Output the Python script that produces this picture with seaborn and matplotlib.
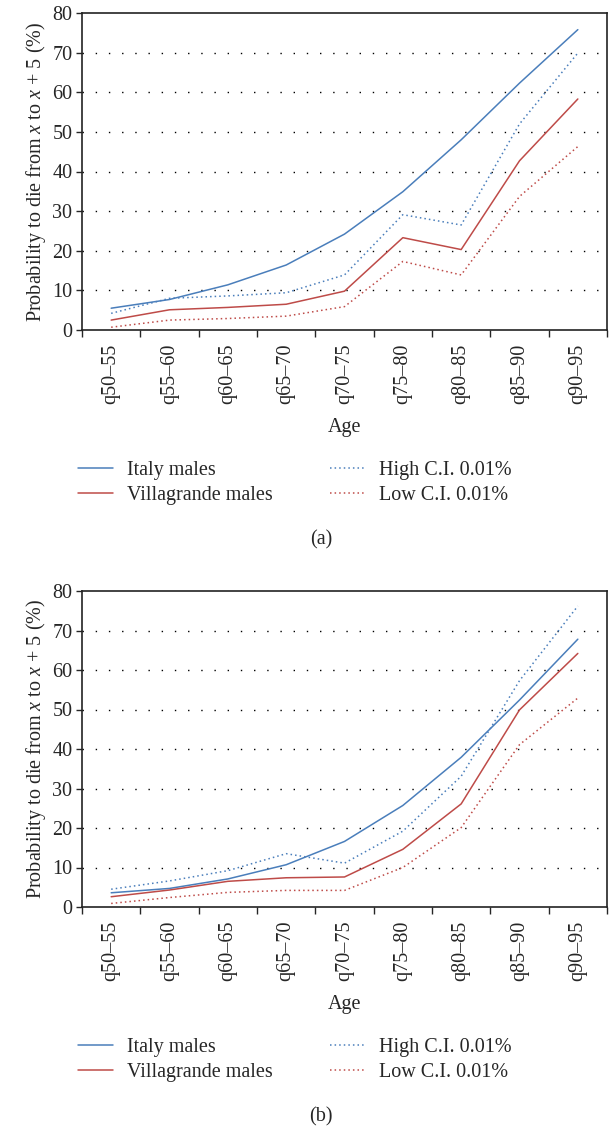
import matplotlib
matplotlib.use("Agg")
import matplotlib.pyplot as plt
import pandas as pd
import seaborn as sns

# age classes
ages = ["q50–55", "q55–60", "q60–65", "q65–70", "q70–75",
        "q75–80", "q80–85", "q85–90", "q90–95"]

# panel (a)
a_italy = [5.5, 7.7, 11.4, 16.4, 24.2, 34.9, 48.0, 62.3, 75.8]
a_villa = [2.5, 5.1, 5.7, 6.5, 9.8, 23.3, 20.3, 42.7, 58.3]
a_high = [4.2, 8.0, 8.6, 9.4, 13.9, 29.1, 26.5, 52.0, 69.9]
a_low = [0.7, 2.5, 2.9, 3.5, 5.9, 17.3, 13.9, 33.7, 46.3]

# panel (b)
b_italy = [3.6, 4.7, 7.1, 10.7, 16.6, 25.7, 37.9, 52.4, 67.8]
b_villa = [2.6, 4.3, 6.5, 7.4, 7.6, 14.6, 26.1, 49.9, 64.2]
b_high = [4.5, 6.6, 9.2, 13.5, 11.1, 19.2, 33.1, 57.3, 76.2]
b_low = [0.9, 2.4, 3.7, 4.2, 4.2, 10.0, 20.1, 41.1, 52.9]

series_names = ["Italy males", "Villagrande males", "High C.I. 0.01%", "Low C.I. 0.01%"]
blue = "#4a7ebb"
red = "#be4b48"
colors = {"Italy males": blue, "Villagrande males": red,
          "High C.I. 0.01%": blue, "Low C.I. 0.01%": red}
dashes = {"Italy males": "", "Villagrande males": "",
          "High C.I. 0.01%": (1, 2), "Low C.I. 0.01%": (1, 2)}

sns.set_style("ticks")
plt.rcParams["font.family"] = ["Liberation Serif", "DejaVu Serif"]
plt.rcParams["mathtext.fontset"] = "custom"
plt.rcParams["mathtext.it"] = "Liberation Serif:italic"
plt.rcParams["mathtext.rm"] = "Liberation Serif"

FS = 14.5
W, H = 610, 1128
fig = plt.figure(figsize=(W / 100, H / 100), dpi=100)


def draw(top, bottom, vals, tag):
    ax = fig.add_axes([82 / W, 1 - bottom / H, (607 - 82) / W, (bottom - top) / H])
    rows = []
    for name, v in zip(series_names, vals):
        for i, val in enumerate(v):
            rows.append({"pos": i, "value": val, "series": name})
    df = pd.DataFrame(rows)
    sns.lineplot(data=df, x="pos", y="value", hue="series", style="series",
                 palette=colors, dashes=dashes, linewidth=1.1, ax=ax)
    ax.set_xlim(-0.5, len(ages) - 0.5)
    ax.set_ylim(0, 80)
    ax.set_yticks(range(0, 81, 10))
    ax.tick_params(axis="y", labelsize=FS, length=4, width=1, direction="out", pad=3)
    ax.set_xticks([i + 0.5 for i in range(-1, len(ages))])
    ax.set_xticklabels([])
    ax.set_xticks(range(len(ages)), minor=True)
    ax.set_xticklabels(ages, minor=True, rotation=90, fontsize=FS)
    ax.tick_params(axis="x", which="major", length=5, width=1)
    ax.tick_params(axis="x", which="minor", length=0, pad=10)
    for y in range(10, 80, 10):
        ax.axhline(y, color="black", linestyle=(0, (1, 8.5)), linewidth=1.0, zorder=0)
    for s in ax.spines.values():
        s.set_color("#222222")
        s.set_linewidth(1.2)
    ax.set_xlabel("Age", fontsize=FS, labelpad=10)
    ax.set_ylabel(r"Probability to die from $x$ to $x$ + 5 (%)", fontsize=FS, labelpad=3)
    handles, labels = ax.get_legend_handles_labels()
    leg_y = bottom + 153
    ax.legend(handles, labels, ncol=2, frameon=False, fontsize=FS,
              loc="center left", bbox_to_anchor=(70 / W, 1 - leg_y / H),
              bbox_transform=fig.transFigure, borderaxespad=0,
              handlelength=1.75, handletextpad=0.7, columnspacing=2.8,
              labelspacing=0.25)
    fig.text(321 / W, 1 - (bottom + 210) / H, tag, ha="center", va="center", fontsize=FS)


draw(13, 330, [a_italy, a_villa, a_high, a_low], "(a)")
draw(591, 907, [b_italy, b_villa, b_high, b_low], "(b)")

fig.savefig("out.png", dpi=100)
